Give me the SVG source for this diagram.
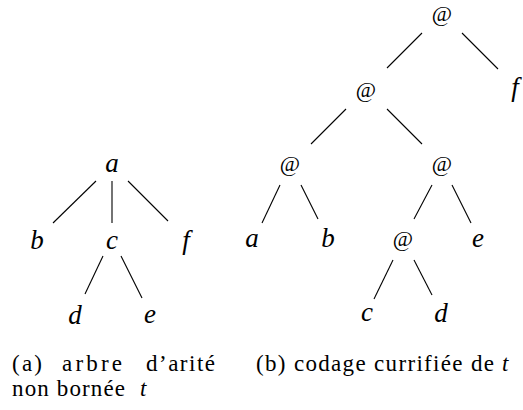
<svg xmlns="http://www.w3.org/2000/svg" width="523" height="410" viewBox="0 0 523 410">
<rect width="523" height="410" fill="#fff"/>
<g id="edges" stroke="#000" stroke-width="1.1">
<line x1="96" y1="181" x2="53" y2="223"/>
<line x1="112" y1="181" x2="112" y2="223"/>
<line x1="128" y1="181" x2="168" y2="221"/>
<line x1="103" y1="256" x2="85" y2="294"/>
<line x1="121" y1="256" x2="142" y2="298"/>
<line x1="422" y1="33" x2="387" y2="68"/>
<line x1="462" y1="33" x2="498" y2="69"/>
<line x1="346" y1="109" x2="311" y2="144"/>
<line x1="387" y1="109" x2="422" y2="144"/>
<line x1="280" y1="185" x2="262" y2="223"/>
<line x1="301" y1="185" x2="318" y2="219"/>
<line x1="432" y1="185" x2="414" y2="219"/>
<line x1="452" y1="185" x2="471" y2="223"/>
<line x1="393" y1="260" x2="374" y2="299"/>
<line x1="414" y1="260" x2="432" y2="295"/>
</g>
<g id="ta"><text font-family="Liberation Serif" font-style="italic" font-size="27" text-anchor="middle" x="112" y="172">a</text></g>
<g id="tb"><text font-family="Liberation Serif" font-style="italic" font-size="27" text-anchor="middle" x="37" y="249">b</text></g>
<g id="tc"><text font-family="Liberation Serif" font-style="italic" font-size="27" text-anchor="middle" x="112" y="249">c</text></g>
<g id="tf"><text font-family="Liberation Serif" font-style="italic" font-size="27" text-anchor="middle" x="186" y="249">f</text></g>
<g id="td"><text font-family="Liberation Serif" font-style="italic" font-size="27" text-anchor="middle" x="75" y="324">d</text></g>
<g id="te"><text font-family="Liberation Serif" font-style="italic" font-size="27" text-anchor="middle" x="150" y="323">e</text></g>
<g id="rf"><text font-family="Liberation Serif" font-style="italic" font-size="27" text-anchor="middle" x="515" y="96">f</text></g>
<g id="ra"><text font-family="Liberation Serif" font-style="italic" font-size="27" text-anchor="middle" x="252" y="247">a</text></g>
<g id="rb"><text font-family="Liberation Serif" font-style="italic" font-size="27" text-anchor="middle" x="328" y="247">b</text></g>
<g id="re"><text font-family="Liberation Serif" font-style="italic" font-size="27" text-anchor="middle" x="478" y="247">e</text></g>
<g id="rc"><text font-family="Liberation Serif" font-style="italic" font-size="27" text-anchor="middle" x="367" y="321">c</text></g>
<g id="rd"><text font-family="Liberation Serif" font-style="italic" font-size="27" text-anchor="middle" x="441" y="322">d</text></g>
<g id="r0"><text font-family="Liberation Serif" font-size="22" text-anchor="middle" x="442" y="21">@</text></g>
<g id="r1"><text font-family="Liberation Serif" font-size="22" text-anchor="middle" x="366" y="97">@</text></g>
<g id="r2"><text font-family="Liberation Serif" font-size="22" text-anchor="middle" x="290" y="171">@</text></g>
<g id="r3"><text font-family="Liberation Serif" font-size="22" text-anchor="middle" x="442" y="171">@</text></g>
<g id="r4"><text font-family="Liberation Serif" font-size="22" text-anchor="middle" x="403" y="246">@</text></g>
<g id="captions">
<text font-family="Liberation Serif" font-size="23" x="12" y="371" textLength="30">(a)</text>
<text font-family="Liberation Serif" font-size="23" x="62" y="371" textLength="60">arbre</text>
<text font-family="Liberation Serif" font-size="23" x="146" y="371" textLength="69">d&#8217;arit&#233;</text>
<text font-family="Liberation Serif" font-size="23" x="12" y="396" textLength="113">non born&#233;e</text>
<text font-family="Liberation Serif" font-size="23" x="140" y="396" font-style="italic">t</text>
<text font-family="Liberation Serif" font-size="23" x="256" y="371" textLength="238">(b) codage currifi&#233;e de</text>
<text font-family="Liberation Serif" font-size="23" x="502" y="371" font-style="italic">t</text>
</g>
</svg>
